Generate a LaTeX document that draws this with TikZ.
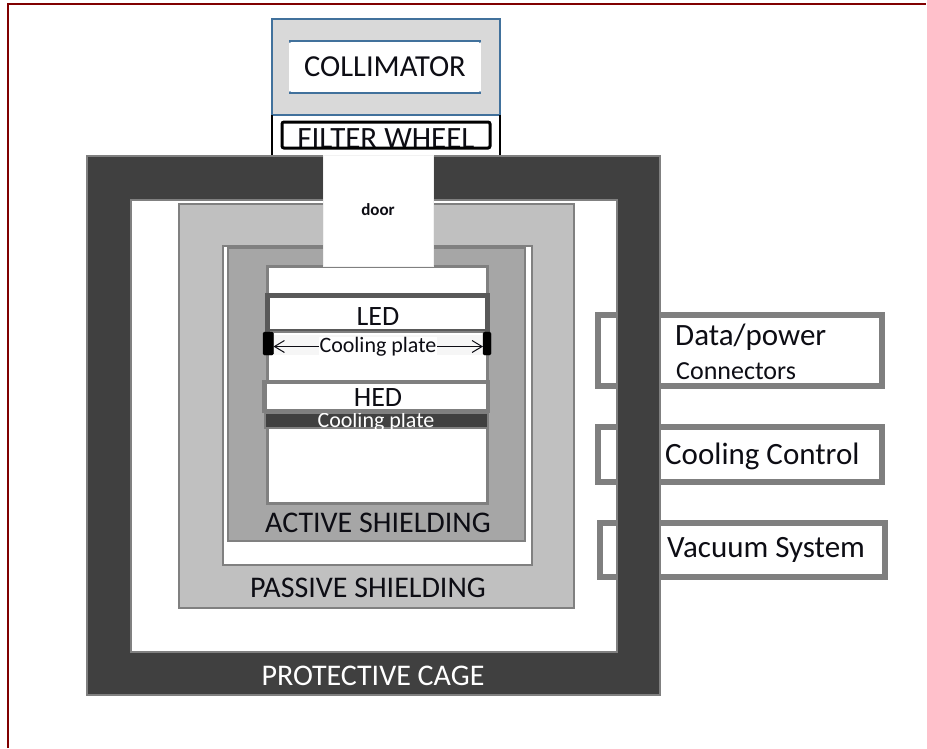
\documentclass[tikz,border=0pt]{standalone}
\usepackage{fontspec}
\setmainfont{Carlito}
\usetikzlibrary{arrows.meta}
\definecolor{cagec}{HTML}{404040}
\definecolor{edgec}{HTML}{808080}
\definecolor{passc}{HTML}{C0C0C0}
\definecolor{actc}{HTML}{A6A6A6}
\definecolor{framec}{HTML}{800000}
\definecolor{blueedge}{HTML}{41719C}
\definecolor{collc}{HTML}{D9D9D9}
\definecolor{boxedge}{HTML}{7F7F7F}
\definecolor{ledc}{HTML}{595959}
\definecolor{txt}{HTML}{0D0D14}
\begin{document}
\begin{tikzpicture}[x=1pt,y=-1pt,
  lbl/.style={text=txt, inner sep=0pt, font=\fontsize{30}{30}\selectfont},
  sidelbl/.style={text=txt, inner sep=0pt, anchor=west, font=\fontsize{31}{31}\selectfont},
  smalllbl/.style={text=txt, inner sep=0pt, font=\fontsize{22}{22}\selectfont},
  sidebox/.style={draw=boxedge, fill=white, line width=6pt},
  wall/.style={draw=edgec, line width=2pt}]
\useasboundingbox (0,0) rectangle (927,748);
\draw[framec, line width=2pt] (8,748) -- (8,4) -- (926,4);

% side boxes (behind the cage bar)
\filldraw[sidebox] (598,315) rectangle (882,386);
\filldraw[sidebox] (598,427) rectangle (882,482);
\filldraw[sidebox] (600,523) rectangle (885,577);
\node[sidelbl] (dp) at (675,337) {Data/power};
\node[sidelbl, font=\fontsize{26}{26}\selectfont] (con) at (676,371) {Connectors};
\node[sidelbl] (cc) at (665,456) {Cooling Control};
\node[sidelbl] (vs) at (667,550) {Vacuum System};

% protective cage (a ring: the side boxes show through its hole)
\fill[cagec, even odd rule] (87,156) rectangle (660,695) (131,200) rectangle (617,652);
\draw[wall] (87,156) rectangle (660,695);
\draw[wall] (131,200) rectangle (617,652);
% passive shielding
\filldraw[wall, fill=passc] (179,204) rectangle (574,608);
\filldraw[wall, fill=white] (223,246) rectangle (532,565);
% active shielding
\filldraw[wall, fill=actc] (228,248) rectangle (525,541);
\filldraw[wall, fill=white, line width=3pt] (267,266) rectangle (487,503);

% door
\filldraw[draw=gray!10, fill=white, line width=1pt] (323,155) rectangle (433,266);
\node[text=txt, inner sep=0pt, font=\fontsize{17}{17}\selectfont\bfseries] (door) at (378,210) {door};

% labels of the walls
\node[lbl] (act) at (378,523) {ACTIVE SHIELDING};
\node[lbl] (pas) at (368,588) {PASSIVE SHIELDING};
\node[lbl, text=white] (cage) at (373,676) {PROTECTIVE CAGE};

% collimator
\filldraw[draw=blueedge, fill=collc, line width=2pt] (272,19) rectangle (500,115);
\fill[white] (289,41) rectangle (481,93);
\draw[blueedge, line width=2pt, line cap=round] (290,42) -- (290,41) -- (480,41) -- (480,42);
\draw[blueedge, line width=2pt, line cap=round] (290,92) -- (290,93) -- (480,93) -- (480,92);
\node[lbl, font=\fontsize{30.5}{30.5}\selectfont] (coll) at (385,67) {COLLIMATOR};

% filter wheel
\fill[white] (271,116) rectangle (501,155);
\draw[black, line width=2.5pt] (272,115) -- (272,155);
\draw[black, line width=2.5pt] (500,115) -- (500,155);
\begin{scope}
\clip (282,122) rectangle (490,148);
\node[lbl, anchor=base, font=\fontsize{31}{31}\selectfont] (fw) at (386,148.5) {FILTER WHEEL};
\end{scope}
\draw[black, line width=3pt, rounded corners=2pt] (282,122) rectangle (490,148);

% LED with its cooling plate
\filldraw[draw=ledc, fill=white, line width=4.5pt] (267.5,295.5) rectangle (487.5,331);
\draw[edgec, line width=1.5pt] (270,332) -- (485,332);
\fill[gray!7] (272,335) rectangle (484,355);
\node[lbl, font=\fontsize{28}{28}\selectfont] (led) at (378,317) {LED};
\filldraw[black, rounded corners=1.5pt] (263,332) rectangle (273.5,355);
\filldraw[black, rounded corners=1.5pt] (483,332) rectangle (491,355);
\coordinate (la) at (273.5,346.5);
\coordinate (ra) at (483,346.5);
\draw[{Straight Barb[length=10pt,width=12pt]}-{Straight Barb[length=10pt,width=12pt]}, line width=1pt, txt] (la) -- (ra);
\node[smalllbl, fill=white, inner xsep=1pt] (cp1) at (378,346.5) {Cooling plate};

% HED with its cooling plate
\filldraw[draw=boxedge, fill=white, line width=4.5pt] (264.5,382) rectangle (488,411);
\node[lbl, font=\fontsize{28}{28}\selectfont] (hed) at (378,398) {HED};
\filldraw[draw=edgec, fill=cagec, line width=1.5pt] (265,413) rectangle (488,428);
\begin{scope}
\clip (265,413) rectangle (488,428);
\node[smalllbl, text=white] (cp2) at (376,422) {Cooling plate};
\end{scope}
\end{tikzpicture}
\end{document}
